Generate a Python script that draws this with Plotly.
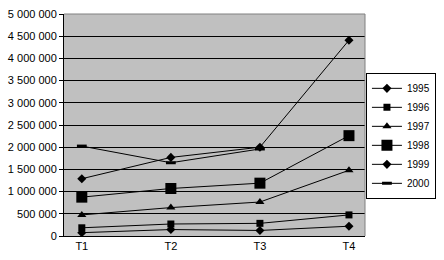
import plotly.graph_objects as go

categories = ["T1", "T2", "T3", "T4"]
series_names = ["1995", "1996", "1997", "1998", "1999", "2000"]
v1995 = [75000, 145000, 125000, 220000]
v1996 = [185000, 270000, 285000, 475000]
v1997 = [475000, 640000, 765000, 1480000]
v1998 = [875000, 1070000, 1190000, 2260000]
v1999 = [1290000, 1770000, 2000000, 4410000]
v2000 = [2025000, 1650000, 1960000, None]
y_ticks = [0, 500000, 1000000, 1500000, 2000000, 2500000, 3000000, 3500000, 4000000, 4500000, 5000000]

values = [v1995, v1996, v1997, v1998, v1999, v2000]
symbols = ["diamond", "square", "triangle-up", "square", "diamond", "line-ew"]
sizes = [7, 7, 8, 11, 7, 7]

fig = go.Figure()
for name, vals, sym, sz in zip(series_names, values, symbols, sizes):
    fig.add_trace(go.Scatter(
        x=categories, y=vals, name=name, mode="lines+markers",
        line=dict(color="black", width=1),
        marker=dict(symbol=sym, size=sz, color="black",
                    line=dict(color="black", width=3 if sym == "line-ew" else 0)),
        connectgaps=False,
    ))

fig.update_layout(
    width=444, height=260,
    margin=dict(l=52, r=78, t=8, b=23),
    paper_bgcolor="white", plot_bgcolor="#C0C0C0",
    separators=". ",
    font=dict(family="Liberation Sans, Arial, sans-serif", size=11, color="black"),
    showlegend=True,
    legend=dict(x=1.2357, y=0.735, xanchor="right", yanchor="top",
                bordercolor="black", borderwidth=1, bgcolor="white",
                font=dict(size=10), itemwidth=30, tracegroupgap=0),
)
fig.update_xaxes(type="category", range=[-0.2, 3.18], showgrid=False,
                 showline=True, linecolor="black", linewidth=1,
                 ticks="", tickfont=dict(size=11))
fig.update_yaxes(range=[0, 5000000], tickvals=y_ticks, tickformat=",d",
                 showgrid=True, gridcolor="black", gridwidth=1,
                 showline=True, linecolor="black", linewidth=1,
                 ticks="outside", ticklen=4, tickcolor="black",
                 zeroline=True, zerolinecolor="black", tickfont=dict(size=11))
fig.add_shape(type="line", xref="paper", yref="paper", x0=0, x1=1, y0=1, y1=1,
              line=dict(color="#808080", width=1), layer="above")
fig.add_shape(type="line", xref="paper", yref="paper", x0=1, x1=1, y0=0, y1=1,
              line=dict(color="#808080", width=1), layer="above")

fig.write_html("out.html")
